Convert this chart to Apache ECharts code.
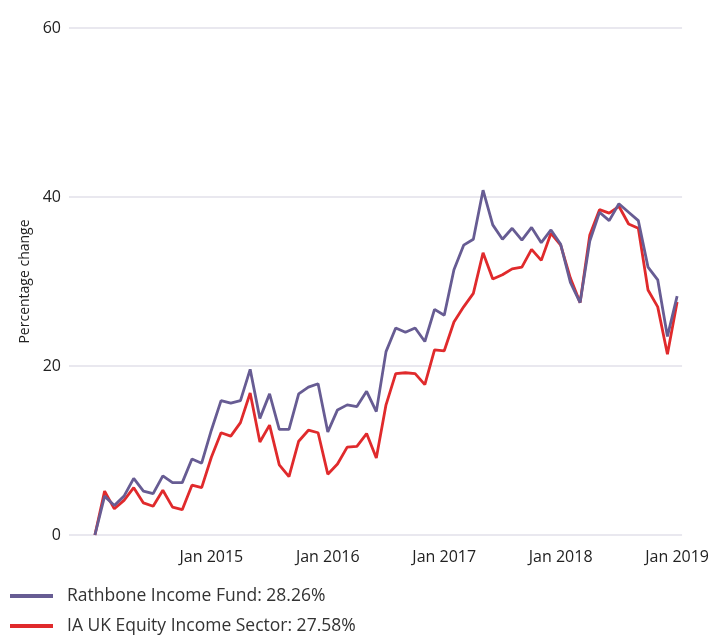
<!DOCTYPE html>
<html>
<head>
<meta charset="utf-8">
<script src="https://cdn.jsdelivr.net/npm/echarts@6/dist/echarts.min.js"></script>
<style>html,body{margin:0;padding:0;background:#fff}#c{width:712px;height:635px}</style>
</head>
<body>
<div id="c"></div>
<script>
// Monthly observations, Jan 2014 .. Jan 2019 (month index 0..60)
const startYear = 2014;
const rathbone = [0, 4.6, 3.5, 4.6, 6.7, 5.2, 4.9, 7.0, 6.2, 6.2, 9.0, 8.5,
  12.4, 15.9, 15.6, 15.9, 19.6, 13.8, 16.7, 12.5, 12.5, 16.7, 17.5, 17.9,
  12.2, 14.8, 15.4, 15.2, 17.0, 14.6, 21.7, 24.5, 24.0, 24.5, 22.9, 26.7,
  26.0, 31.4, 34.3, 35.0, 40.8, 36.7, 35.0, 36.3, 34.9, 36.4, 34.6, 36.1,
  34.4, 29.9, 27.5, 34.8, 38.2, 37.2, 39.2, 38.2, 37.2, 31.7, 30.2, 23.5, 28.26];
const sector = [0, 5.2, 3.1, 4.1, 5.6, 3.8, 3.4, 5.3, 3.3, 3.0, 5.9, 5.6,
  9.2, 12.1, 11.7, 13.3, 16.8, 11.0, 13.0, 8.3, 6.9, 11.1, 12.4, 12.1,
  7.2, 8.4, 10.4, 10.5, 12.0, 9.1, 15.4, 19.1, 19.2, 19.1, 17.8, 21.9,
  21.8, 25.2, 27.0, 28.6, 33.4, 30.3, 30.8, 31.5, 31.7, 33.8, 32.5, 35.7,
  34.3, 30.4, 27.5, 35.5, 38.5, 38.1, 38.9, 36.8, 36.3, 29.0, 27.0, 21.4, 27.58];
const tickMonths = [12, 24, 36, 48, 60];
const yTicks = [0, 20, 40, 60];
const names = ['Rathbone Income Fund: 28.26%', 'IA UK Equity Income Sector: 27.58%'];

const toPairs = arr => arr.map((v, i) => [i, v]);
const FONT = '"Open Sans", "Noto Sans", sans-serif';

const chart = echarts.init(document.getElementById('c'));
chart.setOption({
  animation: false,
  backgroundColor: '#fff',
  textStyle: { fontFamily: FONT },
  grid: { left: 69, right: 27, top: 28, bottom: 100, containLabel: false },
  legend: {
    orient: 'vertical', left: 10, top: 587, padding: 0,
    itemWidth: 43, itemHeight: 4, itemGap: 12,
    icon: 'rect',
    data: names,
    textStyle: { fontSize: 17.5, color: '#333', fontFamily: FONT, lineHeight: 18, padding: [0, 0, 0, 9] }
  },
  xAxis: {
    type: 'value', min: -2.67, max: 60.51,
    axisLine: { show: false }, axisTick: { show: false }, splitLine: { show: false },
    axisLabel: {
      customValues: tickMonths,
      formatter: v => 'Jan ' + (startYear + Math.round(v / 12)),
      fontSize: 16, color: '#222', margin: 14, fontFamily: FONT
    }
  },
  yAxis: {
    type: 'value', min: 0, max: 60, interval: 20,
    name: 'Percentage change', nameLocation: 'middle', nameGap: 37,
    nameTextStyle: { fontSize: 14, color: '#222', fontFamily: FONT },
    axisLine: { show: false }, axisTick: { show: false },
    axisLabel: { fontSize: 16, color: '#222', margin: 8, fontFamily: FONT,
      formatter: v => yTicks.includes(v) ? String(v) : '' },
    splitLine: { lineStyle: { color: '#e2e0ea', width: 1.5 } }
  },
  series: [
    { name: names[0], type: 'line', data: toPairs(rathbone), showSymbol: false, symbol: 'none',
      z: 3, lineStyle: { color: '#675c93', width: 2.8 }, itemStyle: { color: '#675c93' } },
    { name: names[1], type: 'line', data: toPairs(sector), showSymbol: false, symbol: 'none',
      z: 2, lineStyle: { color: '#e02a2c', width: 2.8 }, itemStyle: { color: '#e02a2c' } }
  ]
});
</script>
</body>
</html>
